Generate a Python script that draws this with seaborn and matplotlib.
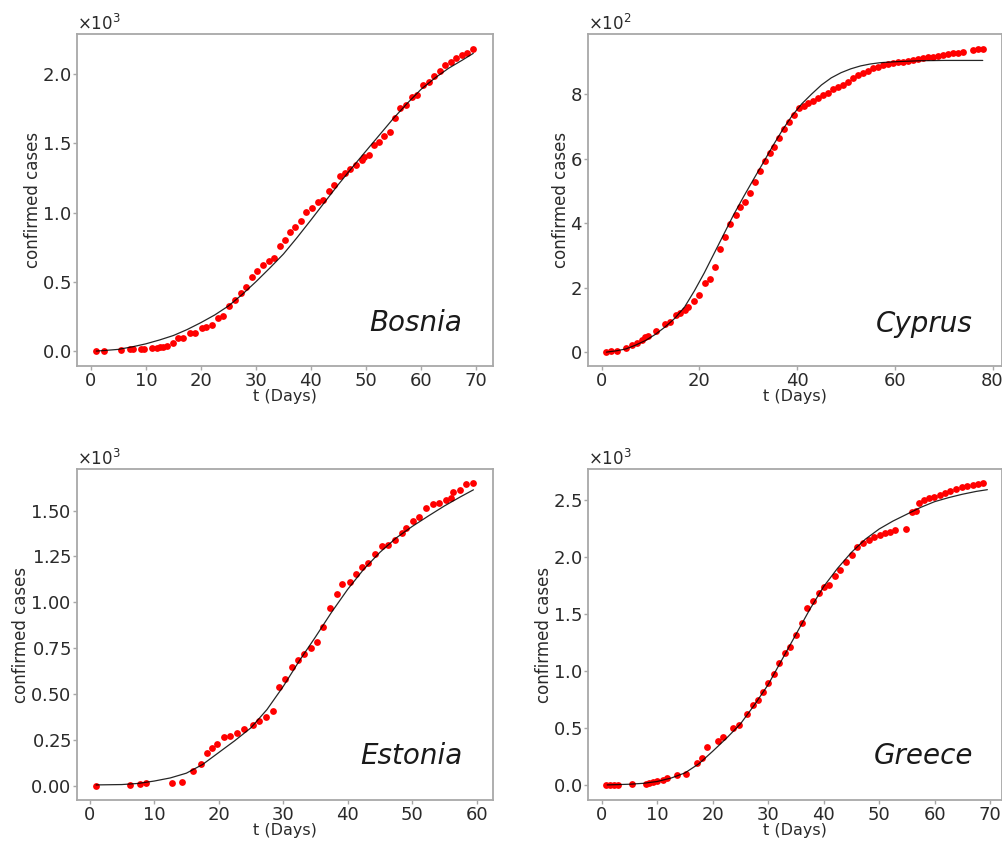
import numpy as np
import pandas as pd
import matplotlib
matplotlib.use("Agg")
import matplotlib.pyplot as plt
import seaborn as sns

# ---------------- data ----------------
bosnia_t = [1.0, 2.4, 5.5, 7.1, 7.6, 9.1, 9.7, 11.1, 12.0, 12.6, 13.2, 13.8, 14.9, 15.9, 16.8,
            18.0, 18.9, 20.2, 21.0, 22.0, 23.2, 24.1, 25.2, 26.2, 27.3, 28.2, 29.3, 30.2, 31.3,
            32.3, 33.3, 34.3, 35.3, 36.2, 37.1, 38.2, 39.1, 40.2, 41.2, 42.2, 43.2, 44.2, 45.2,
            46.2, 47.1, 48.2, 49.2, 49.7, 50.6, 51.4, 52.3, 53.3, 54.3, 55.3, 56.2, 57.3, 58.3,
            59.2, 60.3, 61.4, 62.3, 63.4, 64.4, 65.4, 66.4, 67.4, 68.3, 69.4]
bosnia_cases = [0, 0, 7, 12, 17, 15, 15, 24, 24, 26, 28, 36, 60, 91, 91,
                128, 128, 164, 171, 188, 236, 253, 325, 368, 421, 460, 537, 580, 621,
                650, 674, 758, 802, 862, 898, 941, 1006, 1030, 1078, 1090, 1155, 1199, 1264,
                1283, 1312, 1343, 1379, 1403, 1415, 1487, 1512, 1553, 1584, 1680, 1752, 1776, 1837,
                1849, 1921, 1945, 1986, 2024, 2065, 2089, 2113, 2137, 2154, 2178]
bosnia_fit_t = [1, 2.5, 5, 7.5, 10, 12.5, 15, 17.5, 20, 22.5, 25, 27.5, 30, 32.5, 35, 37.5,
                40, 42.5, 45, 47.5, 50, 52.5, 55, 57.5, 60, 62.5, 65, 67.5, 69.5]
bosnia_fit = [0, 4, 12, 30, 52, 80, 112, 155, 205, 260, 325, 408, 500, 598, 700, 820,
              946, 1075, 1203, 1325, 1444, 1562, 1680, 1788, 1889, 1970, 2041, 2100, 2149]

cyprus_t = [1.0, 2.0, 3.1, 5.1, 6.3, 7.2, 8.2, 8.9, 9.5, 11.1, 13.0, 14.0, 15.2, 16.0, 17.0,
            17.7, 19.0, 20.0, 21.1, 22.2, 23.2, 24.2, 25.2, 26.3, 27.5, 28.4, 29.3, 30.4, 31.4,
            32.4, 33.4, 34.4, 35.3, 36.4, 37.3, 38.4, 39.4, 40.5, 41.4, 42.3, 43.3, 44.3, 45.4,
            46.4, 47.4, 48.4, 49.5, 50.5, 51.5, 52.5, 53.5, 54.6, 55.6, 56.6, 57.6, 58.7, 59.7,
            60.7, 61.7, 62.8, 63.8, 64.8, 65.8, 66.8, 67.9, 68.9, 69.9, 70.9, 72.0, 73.0, 74.0,
            76.1, 77.1, 78.1]
cyprus_cases = [0, 2, 5, 12, 21, 28, 38, 47, 49, 65, 86, 93, 114, 121, 131,
                140, 158, 176, 214, 228, 264, 321, 357, 396, 424, 450, 466, 494, 528,
                562, 592, 616, 636, 665, 693, 714, 735, 756, 763, 771, 779, 787, 797,
                804, 815, 821, 828, 838, 849, 859, 866, 872, 880, 885, 890, 893, 895,
                898, 900, 903, 906, 908, 911, 914, 916, 919, 921, 924, 926, 928, 931,
                937, 939, 939]
cyprus_fit_t = [1, 3, 5, 7, 9, 11, 13, 15, 17, 19, 21, 23, 25, 27, 29, 31, 33, 35, 37, 39,
                41, 43, 45, 47, 49, 51, 53, 55, 57, 60, 65, 70, 78]
cyprus_fit = [0, 4, 10, 22, 36, 55, 78, 105, 140, 190, 245, 305, 365, 425, 480, 533, 585, 638,
              688, 733, 770, 800, 828, 850, 866, 878, 887, 893, 897, 900, 903, 904, 904]

estonia_t = [1.0, 6.3, 7.8, 8.8, 12.8, 14.3, 16.1, 17.2, 18.2, 18.9, 19.7, 20.9, 21.8, 22.9, 23.9,
             25.3, 26.3, 27.4, 28.4, 29.3, 30.3, 31.3, 32.3, 33.2, 34.3, 35.2, 36.2, 37.3, 38.3,
             39.2, 40.3, 41.3, 42.3, 43.2, 44.2, 45.3, 46.3, 47.3, 48.4, 49.1, 50.2, 51.1, 52.1,
             53.2, 54.2, 55.2, 56.1, 56.3, 57.4, 58.3, 59.4]
estonia_cases = [0, 4, 7, 13, 16, 22, 82, 116, 176, 207, 225, 264, 271, 285, 307,
                 331, 353, 373, 407, 540, 580, 649, 685, 718, 749, 785, 864, 967, 1045,
                 1100, 1113, 1154, 1191, 1213, 1264, 1309, 1313, 1340, 1380, 1404, 1445, 1464, 1513,
                 1536, 1540, 1558, 1567, 1603, 1613, 1645, 1649]
estonia_fit_t = [1, 5, 7.5, 10, 12.5, 15, 17.5, 20, 22.5, 25, 27.5, 30, 32.5, 35, 37.5, 40,
                 42.5, 45, 47.5, 50, 52.5, 55, 57.5, 59.5]
estonia_fit = [4, 6, 12, 25, 42, 68, 115, 180, 245, 315, 415, 540, 680, 810, 945, 1070,
               1180, 1272, 1350, 1413, 1470, 1525, 1575, 1613]

greece_t = [0.8, 1.5, 2.2, 3.0, 5.4, 8.0, 8.6, 9.2, 9.9, 11.0, 11.7, 13.5, 15.2, 17.1, 18.0,
            18.9, 21.0, 21.9, 23.7, 24.8, 26.1, 27.2, 28.1, 29.1, 30.0, 31.1, 32.0, 33.1, 34.0,
            35.0, 36.1, 37.0, 38.0, 39.1, 40.0, 41.0, 42.1, 43.0, 44.0, 45.1, 46.0, 47.1, 48.1,
            49.0, 50.1, 51.1, 52.0, 52.9, 54.9, 55.9, 56.7, 57.1, 58.0, 58.9, 59.8, 60.9, 61.9,
            62.8, 63.9, 64.9, 65.8, 66.9, 67.9, 68.8]
greece_cases = [0, 0, 0, 0, 6, 6, 20, 29, 35, 44, 64, 88, 94, 190, 234,
                336, 386, 424, 497, 526, 623, 702, 746, 819, 892, 974, 1067, 1161, 1213,
                1316, 1418, 1550, 1617, 1681, 1740, 1754, 1833, 1886, 1959, 2018, 2085, 2120, 2149,
                2172, 2193, 2208, 2222, 2237, 2249, 2398, 2407, 2471, 2500, 2515, 2529, 2544, 2564,
                2582, 2594, 2611, 2623, 2632, 2640, 2646]
greece_fit_t = [1, 5, 7.5, 10, 12.5, 15, 17.5, 20, 22.5, 25, 27.5, 30, 32.5, 35, 37.5, 40,
                42.5, 45, 47.5, 50, 52.5, 55, 57.5, 60, 62.5, 65, 67.5, 69.5]
greece_fit = [0, 6, 14, 30, 60, 105, 185, 295, 410, 535, 700, 880, 1100, 1320, 1540, 1740,
              1900, 2040, 2155, 2245, 2315, 2375, 2435, 2485, 2520, 2550, 2575, 2590]

countries = ["Bosnia", "Cyprus", "Estonia", "Greece"]
x_ticks = [list(range(0, 71, 10)), list(range(0, 81, 20)), list(range(0, 61, 10)), list(range(0, 71, 10))]
x_tick_labels = [[str(v) for v in ticks] for ticks in x_ticks]

# ---------------- styling / layout ----------------
sns.set_style("white")
plt.rcParams["font.family"] = ["DejaVu Sans"]

panels = [
    (bosnia_t, bosnia_cases, bosnia_fit_t, bosnia_fit),
    (cyprus_t, cyprus_cases, cyprus_fit_t, cyprus_fit),
    (estonia_t, estonia_cases, estonia_fit_t, estonia_fit),
    (greece_t, greece_cases, greece_fit_t, greece_fit),
]
positions = [
    [0.0768, 0.5648, 0.4148, 0.3948],
    [0.5866, 0.5648, 0.4122, 0.3948],
    [0.0771, 0.0488, 0.4142, 0.3932],
    [0.5866, 0.0488, 0.4122, 0.3932],
]
xlims = [(-2.5, 73.1), (-2.7, 81.9), (-1.9, 62.5), (-2.4, 72.1)]
ylims = [(-108, 2289), (-43, 986), (-78, 1725), (-132, 2769)]
name_pos = [(0.925, 0.105), (0.930, 0.103), (0.926, 0.108), (0.930, 0.108)]

fig = plt.figure(figsize=(10.03, 8.41), dpi=100)
text_col = "#2a2a2a"
spine_col = "#a8a8a8"

for i, (t, c, ft, fv) in enumerate(panels):
    ax = fig.add_axes(positions[i])
    df = pd.DataFrame({"t": t, "cases": c})
    fit = pd.DataFrame({"t": ft, "cases": fv})
    sns.scatterplot(data=df, x="t", y="cases", ax=ax, color="red", s=24,
                    linewidth=0, zorder=2)
    sns.lineplot(data=fit, x="t", y="cases", ax=ax, color="black", linewidth=0.9,
                 estimator=None, sort=False, zorder=3, alpha=0.85)
    ax.set_xlim(*xlims[i])
    ax.set_ylim(*ylims[i])
    ax.set_xticks(x_ticks[i])
    ax.set_xticklabels(x_tick_labels[i])
    ax.ticklabel_format(axis="y", style="sci", scilimits=(0, 0), useMathText=True)
    ax.yaxis.get_offset_text().set_fontsize(12)
    ax.yaxis.get_offset_text().set_color(text_col)
    ax.tick_params(axis="both", which="major", labelsize=13, length=3, width=1,
                   pad=1.5, color=spine_col, labelcolor=text_col, direction="out",
                   bottom=True, left=True)
    for sp in ax.spines.values():
        sp.set_color(spine_col)
        sp.set_linewidth(1.3)
    ax.set_xlabel("t (Days)", fontsize=11.5, color=text_col, labelpad=-1)
    ax.set_ylabel("confirmed cases", fontsize=12, color=text_col, labelpad=0)
    ax.text(name_pos[i][0], name_pos[i][1], countries[i], transform=ax.transAxes,
            ha="right", va="baseline", fontsize=20, style="italic", color="#1a1a1a")

fig.savefig("out.png", dpi=100)
